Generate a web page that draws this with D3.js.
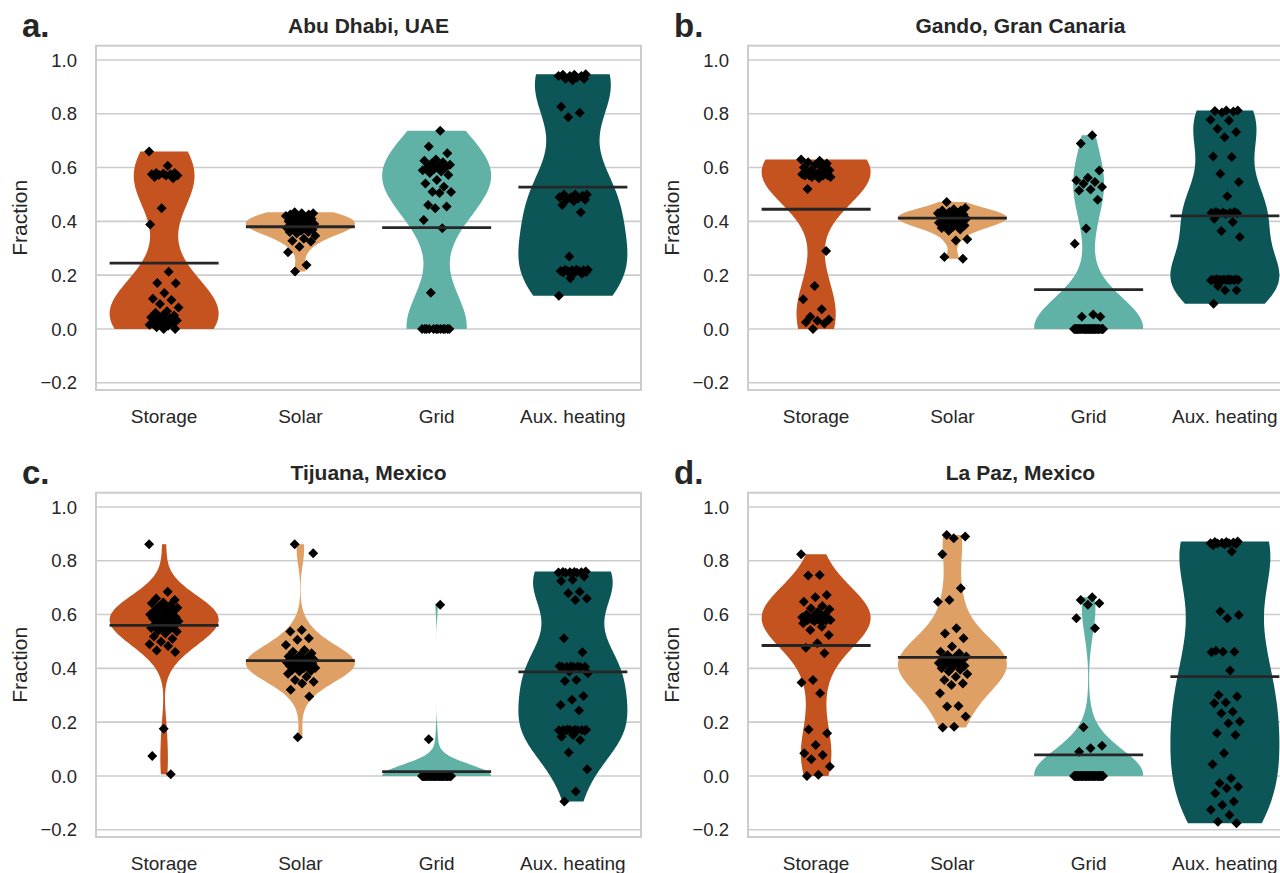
<!DOCTYPE html>
<html lang="en">
<head>
<meta charset="utf-8">
<title>Violin plots of fractions</title>
<script src="https://d3js.org/d3.v7.min.js"></script>
<style>
  body { margin: 0; background: #ffffff; }
  svg { display: block; font-family: "Liberation Sans", Arial, sans-serif; }
</style>
</head>
<body>
<svg id="chart" width="1280" height="873"></svg>
<script>
// site titles, panel letters, categories, ticks
const sites = ["Abu Dhabi, UAE", "Gando, Gran Canaria", "Tijuana, Mexico", "La Paz, Mexico"];
const panelLetters = ["a.", "b.", "c.", "d."];
const categories = ["Storage", "Solar", "Grid", "Aux. heating"];
const yTicks = [-0.2, 0.0, 0.2, 0.4, 0.6, 0.8, 1.0];
const yDomain = [-0.227, 1.053];
const colors = ["#c4531f", "#dfa066", "#5fb2a5", "#0d5658"];

// Abu Dhabi
const abuDhabiStorage = [0.66, 0.607, 0.58, 0.58, 0.578, 0.575, 0.575, 0.572, 0.57, 0.57, 0.565, 0.56, 0.449, 0.388,
  0.213, 0.171, 0.17, 0.134, 0.112, 0.108, 0.093, 0.08, 0.066, 0.06, 0.05, 0.05, 0.043, 0.04, 0.037, 0.031, 0.03,
  0.025, 0.021, 0.02, 0.016, 0.012, 0.006, 0.0, 0.0];
const abuDhabiSolar = [0.434, 0.43, 0.43, 0.425, 0.425, 0.42, 0.42, 0.415, 0.41, 0.41, 0.405, 0.40, 0.40, 0.395, 0.39,
  0.39, 0.385, 0.38, 0.38, 0.375, 0.375, 0.37, 0.37, 0.365, 0.36, 0.36, 0.355, 0.346, 0.335, 0.328, 0.325, 0.306,
  0.285, 0.238, 0.214];
const abuDhabiGrid = [0.737, 0.678, 0.653, 0.63, 0.625, 0.62, 0.615, 0.61, 0.605, 0.6, 0.6, 0.595, 0.59, 0.585, 0.58,
  0.572, 0.554, 0.541, 0.529, 0.51, 0.509, 0.505, 0.461, 0.455, 0.449, 0.405, 0.374, 0.135,
  0, 0, 0, 0, 0, 0, 0, 0, 0, 0, 0, 0];
const abuDhabiAux = [0.947, 0.945, 0.945, 0.94, 0.94, 0.94, 0.935, 0.93, 0.93, 0.925, 0.826, 0.804, 0.787, 0.5, 0.5,
  0.5, 0.495, 0.49, 0.49, 0.485, 0.48, 0.48, 0.475, 0.461, 0.434, 0.269, 0.22, 0.22, 0.22, 0.218, 0.218, 0.215,
  0.215, 0.215, 0.212, 0.21, 0.21, 0.205, 0.188, 0.123];
const abuDhabiMean = [0.245, 0.38, 0.377, 0.527];

// Gando
const gandoStorage = [0.63, 0.625, 0.62, 0.615, 0.61, 0.6, 0.6, 0.59, 0.59, 0.58, 0.58, 0.58, 0.58, 0.575, 0.575,
  0.57, 0.57, 0.57, 0.57, 0.57, 0.565, 0.565, 0.56, 0.52, 0.29, 0.16, 0.11, 0.073, 0.045, 0.035, 0.03, 0.025,
  0.02, 0.0];
const gandoSolar = [0.472, 0.45, 0.445, 0.44, 0.44, 0.435, 0.43, 0.43, 0.425, 0.425, 0.42, 0.42, 0.415, 0.415, 0.41,
  0.41, 0.405, 0.40, 0.40, 0.395, 0.39, 0.39, 0.385, 0.38, 0.375, 0.37, 0.365, 0.333, 0.329, 0.267, 0.261];
const gandoGrid = [0.72, 0.689, 0.589, 0.562, 0.552, 0.546, 0.54, 0.528, 0.518, 0.515, 0.48, 0.373, 0.317, 0.054,
  0.045, 0.045, 0, 0, 0, 0, 0, 0, 0, 0, 0, 0, 0, 0, 0, 0, 0, 0, 0, 0, 0, 0, 0, 0, 0, 0, 0, 0, 0, 0, 0, 0, 0, 0];
const gandoAux = [0.812, 0.812, 0.81, 0.808, 0.805, 0.778, 0.775, 0.744, 0.732, 0.713, 0.641, 0.639, 0.577, 0.546,
  0.493, 0.435, 0.435, 0.433, 0.432, 0.432, 0.43, 0.43, 0.428, 0.41, 0.398, 0.364, 0.342, 0.185, 0.185, 0.184,
  0.184, 0.183, 0.183, 0.183, 0.183, 0.182, 0.182, 0.182, 0.181, 0.181, 0.181, 0.16, 0.144, 0.144, 0.094];
const gandoMean = [0.445, 0.412, 0.146, 0.42];

// Tijuana
const tijuanaStorage = [0.861, 0.685, 0.66, 0.654, 0.645, 0.642, 0.635, 0.63, 0.625, 0.62, 0.615, 0.61, 0.605, 0.6,
  0.6, 0.595, 0.59, 0.59, 0.585, 0.58, 0.58, 0.575, 0.57, 0.565, 0.56, 0.555, 0.55, 0.545, 0.54, 0.537, 0.53,
  0.518, 0.51, 0.499, 0.49, 0.483, 0.466, 0.461, 0.175, 0.074, 0.006];
const tijuanaSolar = [0.861, 0.828, 0.543, 0.537, 0.512, 0.506, 0.487, 0.468, 0.462, 0.456, 0.45, 0.444, 0.44, 0.435,
  0.431, 0.43, 0.428, 0.425, 0.425, 0.422, 0.42, 0.419, 0.415, 0.413, 0.41, 0.408, 0.405, 0.401, 0.4, 0.395, 0.39,
  0.388, 0.38, 0.369, 0.357, 0.35, 0.344, 0.32, 0.295, 0.144];
const tijuanaGrid = [0.636, 0.136, 0, 0, 0, 0, 0, 0, 0, 0, 0, 0, 0, 0, 0, 0, 0, 0, 0, 0, 0, 0, 0, 0, 0, 0, 0, 0, 0,
  0, 0, 0, 0, 0, 0, 0, 0, 0, 0, 0, 0, 0, 0, 0, 0, 0, 0, 0];
const tijuanaAux = [0.76, 0.758, 0.758, 0.757, 0.757, 0.756, 0.755, 0.755, 0.741, 0.729, 0.725, 0.685, 0.679, 0.66,
  0.654, 0.512, 0.46, 0.408, 0.408, 0.407, 0.406, 0.406, 0.405, 0.405, 0.404, 0.388, 0.382, 0.357, 0.353, 0.297,
  0.283, 0.264, 0.243, 0.173, 0.172, 0.172, 0.171, 0.171, 0.171, 0.17, 0.17, 0.169, 0.168, 0.152, 0.146, 0.134,
  0.087, 0.025, -0.058, -0.095];
const tijuanaMean = [0.56, 0.429, 0.016, 0.387];

// La Paz
const laPazStorage = [0.824, 0.747, 0.745, 0.673, 0.664, 0.648, 0.632, 0.623, 0.62, 0.61, 0.6, 0.6, 0.595, 0.59,
  0.586, 0.585, 0.584, 0.583, 0.582, 0.582, 0.581, 0.58, 0.58, 0.58, 0.578, 0.575, 0.568, 0.555, 0.543, 0.524,
  0.493, 0.477, 0.456, 0.357, 0.347, 0.307, 0.173, 0.159, 0.115, 0.084, 0.078, 0.062, 0.035, 0.004, 0.0];
const laPazSolar = [0.896, 0.89, 0.884, 0.824, 0.698, 0.654, 0.648, 0.549, 0.53, 0.512, 0.481, 0.462, 0.456, 0.45,
  0.444, 0.44, 0.435, 0.431, 0.425, 0.42, 0.419, 0.415, 0.41, 0.406, 0.4, 0.395, 0.388, 0.379, 0.369, 0.357,
  0.344, 0.338, 0.307, 0.26, 0.258, 0.221, 0.183, 0.18];
const laPazGrid = [0.664, 0.654, 0.642, 0.636, 0.586, 0.549, 0.181, 0.112, 0.103, 0.09, 0, 0, 0, 0, 0, 0, 0, 0, 0,
  0, 0, 0, 0, 0, 0, 0, 0, 0, 0, 0, 0, 0, 0, 0, 0, 0, 0, 0, 0, 0, 0, 0, 0, 0, 0, 0, 0, 0, 0, 0, 0, 0];
const laPazAux = [0.872, 0.87, 0.87, 0.868, 0.867, 0.865, 0.865, 0.864, 0.862, 0.86, 0.858, 0.834, 0.611, 0.598,
  0.586, 0.465, 0.462, 0.462, 0.46, 0.392, 0.301, 0.295, 0.273, 0.27, 0.239, 0.233, 0.202, 0.196, 0.159, 0.152,
  0.084, 0.043, -0.009, -0.027, -0.04, -0.046, -0.064, -0.095, -0.108, -0.126, -0.145, -0.17, -0.176];
const laPazMean = [0.485, 0.441, 0.078, 0.369];

const panelData = [
  [abuDhabiStorage, abuDhabiSolar, abuDhabiGrid, abuDhabiAux],
  [gandoStorage, gandoSolar, gandoGrid, gandoAux],
  [tijuanaStorage, tijuanaSolar, tijuanaGrid, tijuanaAux],
  [laPazStorage, laPazSolar, laPazGrid, laPazAux]
];
const panelMeans = [abuDhabiMean, gandoMean, tijuanaMean, laPazMean];

// layout
const svg = d3.select("#chart");
const plotW = 545, plotH = 344.3;
const origins = [[96, 45.7], [748, 45.7], [96, 492.7], [748, 492.7]];
const textCol = "#262626";

// gaussian kde, scott bandwidth, cut at data range
function violinProfile(vals) {
  const n = vals.length;
  const bw = d3.deviation(vals) * Math.pow(n, -0.2);
  const lo = d3.min(vals), hi = d3.max(vals);
  const steps = 160;
  const pts = [];
  for (let k = 0; k <= steps; k++) {
    const v = lo + (hi - lo) * k / steps;
    let s = 0;
    for (const d of vals) { const z = (v - d) / bw; s += Math.exp(-0.5 * z * z); }
    pts.push({v: v, dens: s});
  }
  const mx = d3.max(pts, p => p.dens);
  pts.forEach(p => p.dens /= mx);
  return pts;
}

// matplotlib style "D" marker
const diamond = {
  draw(ctx, size) {
    const r = Math.sqrt(size / 2);
    ctx.moveTo(0, -r); ctx.lineTo(r, 0); ctx.lineTo(0, r); ctx.lineTo(-r, 0); ctx.closePath();
  }
};

panelData.forEach((series, p) => {
  const [ox, oy] = origins[p];
  const g = svg.append("g").attr("transform", `translate(${ox},${oy})`);

  const x = d3.scaleBand().domain(categories).range([0, plotW]);
  const y = d3.scaleLinear().domain(yDomain).range([plotH, 0]);
  const half = x.bandwidth() * 0.4;

  // grid
  g.selectAll("line.grid").data(yTicks).enter().append("line")
    .attr("x1", 0).attr("x2", plotW)
    .attr("y1", d => y(d)).attr("y2", d => y(d))
    .attr("stroke", "#cccccc").attr("stroke-width", 1.6);

  // frame
  g.append("rect").attr("x", 0).attr("y", 0).attr("width", plotW).attr("height", plotH)
    .attr("fill", "none").attr("stroke", "#cccccc").attr("stroke-width", 2);

  // y tick labels
  g.selectAll("text.yt").data(yTicks).enter().append("text")
    .attr("x", -19).attr("y", d => y(d)).attr("dy", "0.36em")
    .attr("text-anchor", "end").attr("font-size", 18.5).attr("fill", textCol)
    .text(d => d3.format(".1f")(d).replace("-", "\u2212"));

  // x tick labels
  g.selectAll("text.xt").data(categories).enter().append("text")
    .attr("x", d => x(d) + x.bandwidth() / 2).attr("y", plotH + 33)
    .attr("text-anchor", "middle").attr("font-size", 19).attr("fill", textCol)
    .text(d => d);

  // y label
  g.append("text")
    .attr("transform", `translate(-69,${plotH / 2}) rotate(-90)`)
    .attr("text-anchor", "middle").attr("font-size", 21).attr("fill", textCol)
    .text("Fraction");

  // title + panel letter
  g.append("text").attr("x", plotW / 2).attr("y", -13)
    .attr("text-anchor", "middle").attr("font-size", 21).attr("font-weight", "bold").attr("fill", textCol)
    .text(sites[p]);
  g.append("text").attr("x", -74).attr("y", -9)
    .attr("font-size", 33).attr("font-weight", "bold").attr("fill", textCol)
    .text(panelLetters[p]);

  series.forEach((vals, c) => {
    const cx = x(categories[c]) + x.bandwidth() / 2;
    const prof = violinProfile(vals);
    const area = d3.area()
      .y(d => y(d.v))
      .x0(d => cx - half * d.dens)
      .x1(d => cx + half * d.dens);
    g.append("path").datum(prof).attr("d", area).attr("fill", colors[c]);

    // strip points with fixed jitter
    g.selectAll(null).data(vals).enter().append("path")
      .attr("d", d3.symbol().type(diamond).size(50))
      .attr("transform", (d, i) => {
        const j = ((i * 0.6180339887 + c * 0.31) % 1 - 0.5) * 0.22 * x.bandwidth();
        return `translate(${cx + j},${y(d)})`;
      })
      .attr("fill", "#000000");

    // mean line
    g.append("line")
      .attr("x1", cx - half).attr("x2", cx + half)
      .attr("y1", y(panelMeans[p][c])).attr("y2", y(panelMeans[p][c]))
      .attr("stroke", textCol).attr("stroke-width", 2.8);
  });
});
</script>
</body>
</html>
